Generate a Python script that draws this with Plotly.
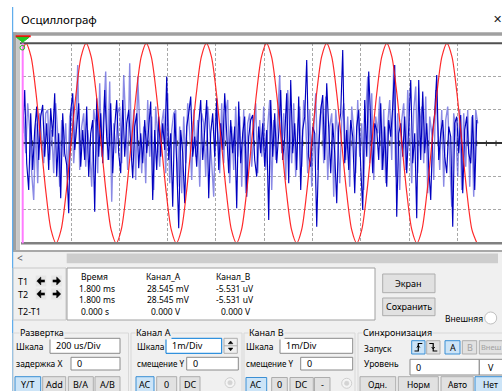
import numpy as np
import plotly.graph_objects as go

W, H = 502, 391
FONT = "Noto Sans"

# ---------------- data ----------------
# time base: 200 us/div, screen starts at 1.8 ms
T_START_MS = 1.8
MS_PER_DIV = 0.2
DIVS_VISIBLE = (502 - 22.7) / 48.3

# Channel A (red): sampled values in mV (1 mV/div)
CH_A_T0 = 1.7929
CH_A_DT = 0.02075
ch_a_mv = [
    2.6, 3.0, 2.6, 1.5, 0.0, -1.5, -2.6, -3.0, -2.6, -1.5, 0.0, 1.5,
    2.6, 3.0, 2.6, 1.5, 0.0, -1.5, -2.6, -3.0, -2.6, -1.5, 0.0, 1.5,
    2.6, 3.0, 2.6, 1.5, 0.0, -1.5, -2.6, -3.0, -2.6, -1.5, 0.0, 1.5,
    2.6, 3.0, 2.6, 1.5, 0.0, -1.5, -2.6, -3.0, -2.6, -1.5, 0.0, 1.5,
    2.6, 3.0, 2.6, 1.5, 0.0, -1.5, -2.6, -3.0, -2.6, -1.5, 0.0, 1.5,
    2.6, 3.0, 2.6, 1.5, 0.0, -1.5, -2.6, -3.0, -2.6, -1.5, 0.0, 1.5,
    2.6, 3.0, 2.6, 1.5, 0.0, -1.5, -2.6, -3.0, -2.6, -1.5, 0.0, 1.5,
    2.6, 3.0, 2.6, 1.5, 0.0, -1.5, -2.6, -3.0,
]

# Channel B (blue): noise in mV, two interleaved sample sets
CH_B_DT = 0.008282
ch_b_dark = [
    0.3, 1.6, -0.6, -1.4, 0.9, -0.8, 0.4, 1.1, -0.5, 0.8,
    1.15, -0.4, 0.6, -0.8, 1.05, 0.2, 1.5, -1.0, 0.3, -1.65,
    0.9, -0.3, -0.65, -2.1, 0.95, 1.5, -0.2, 0.6, 1.2, -0.7,
    0.4, -0.5, 1.1, -1.0, 0.3, 0.7, -2.05, 1.35, -0.4, 0.9,
    -0.6, 1.6, 0.2, -0.5, 1.2, -0.9, 0.5, 1.3, -0.3, -0.9,
    1.3, -0.4, 0.6, 1.0, -0.2, -1.05, 0.5, 0.9, -0.75, 0.3,
    -0.6, 0.7, -0.3, 0.5, 1.25, -1.7, 0.4, -0.8, 0.8, -0.4,
    0.6, -0.2, 2.0, -0.5, 0.3, -1.9, 0.9, -0.6, -2.55, 0.4,
    -0.3, -1.8, 0.5, 0.9, 1.4, -0.4, 0.2, -0.7, 0.6, 1.3,
    -0.5, 0.4, 1.3, -1.65, 0.3, 0.9, -0.4, 1.35, -0.8, 0.6,
    -0.2, 1.5, 0.4, -0.9, 0.7, -0.3, 0.5, -1.95, 1.25, -0.6,
    0.3, 0.8, -1.6, 0.2, 0.7, 0.85, -0.5, -1.0, 0.5, -0.3,
    0.6, -0.7, 0.4, -2.3, 1.3, -0.4, 0.9, -0.6, 0.3, 1.6,
    -0.5, 0.2, 1.5, -1.2, 1.9, -0.3, 0.6, -0.8, 1.4, -1.4,
    0.4, 0.8, 2.5, -0.4, -0.7, 0.5, 0.3, -2.5, -0.2, 1.0,
    1.45, -0.5, 1.8, 0.3, -0.9, 0.6, -0.3, -1.8, 0.5, 0.9,
    2.8, -0.6, 0.4, -0.8, 0.7, 0.2, -1.5, 0.5, 1.0, -0.7,
    -2.0, 1.3, -0.4, 2.15, 0.3, -0.9, 0.6, 0.4, -0.5, 1.2,
    -0.8, 0.5, -1.3, 0.7, 0.2, 1.1, 2.35, -2.2, 0.3, 0.6,
    -0.4, 0.8, -0.9, 0.5, 1.9, -0.6, 0.3, -2.25, 1.9, -0.5,
    1.55, -0.3, 0.6, -0.7, -1.7, 0.4, 0.9, 2.05, -0.5, 0.3,
    0.7, -0.4, -0.9, 0.5, 0.2, -2.5, 0.6, 0.8, -0.3, 0.85,
    -1.5, 0.4, 0.8, -0.3, -0.6, 0.85, -1.4, 0.7,
]
ch_b_light = [
    0.8, -0.3, 1.2, 0.4, -0.9, -1.7, 0.6, -1.2, 0.9, 0.2,
    -0.6, 0.9, 1.0, -0.5, 0.4, -0.9, 1.2, 0.3, -1.3, 0.7,
    -0.4, 0.6, -1.1, 0.8, 1.1, -0.6, 0.3, 2.35, -0.8, 0.5,
    0.9, -0.7, 0.4, -0.2, -1.3, 1.0, 0.6, -0.9, 1.8, -0.4,
    0.7, 2.15, -0.5, 1.85, -1.75, 0.6, -0.3, 0.9, 1.1, -0.6,
    2.05, 0.3, -0.8, 2.4, -0.5, 1.0, -1.1, 2.0, 0.4, -0.9,
    0.5, -1.2, 1.3, -0.4, 0.8, -1.4, 1.1, 0.2, -0.7, 0.6,
    1.0, -0.9, 1.5, -1.2, 0.4, 0.9, 1.0, -1.3, 0.5, -1.5,
    0.8, -0.6, 1.2, 0.3, -1.1, 1.0, -0.4, 0.7, -1.3, 0.9,
    0.6, -1.0, 1.1, 0.4, -0.5, -1.6, 1.0, 0.3, -0.9, 1.2,
    -0.6, 0.9, 1.3, -1.2, 0.5, -0.8, 1.1, -0.4, 0.8, -1.3,
    1.0, -1.5, 0.6, 0.9, -0.7, 0.4, 1.2, -0.9, 0.7, -0.4,
    1.1, -0.8, 0.5, 1.3, -1.4, 0.7, -0.5, 0.8, 2.05, -0.3,
    0.9, -1.1, 1.6, 0.4, -0.6, 1.2, -1.0, 0.5, 1.1, -0.7,
    1.3, 0.6, -0.9, 1.0, -1.3, 0.4, 1.5, -0.8, 0.7, 1.2,
    -0.6, 1.4, -1.1, 0.5, 0.9, -1.6, 1.0, 0.3, -1.2, 0.7,
    1.2, -0.5, 0.8, -1.3, 1.1, 0.4, -0.9, 1.3, -0.4, 0.6,
    -1.4, 0.9, 2.0, -0.6, 1.5, -1.1, 0.8, 0.3, 1.4, -0.8,
    1.0, -1.2, 0.6, 1.3, -0.5, 2.35, -1.0, 0.9, -1.4, 0.7,
    1.2, -0.8, 1.6, 0.4, -1.2, 1.0, 1.7, -0.9, 0.5, 1.1,
    -0.6, 1.4, -1.5, 0.8, 0.3, -1.1, 1.6, 0.5, -0.8, 1.0,
    -1.3, 0.7, 1.1, -0.5, -1.9, 0.9, 0.4, -1.0, 1.0, -1.4,
    0.9, -0.7, 1.0, -1.3, 0.8, -1.6, 1.0, 0.6,
]

# cursor readout table
readout_headers = ["Время", "Канал_A", "Канал_B"]
readout_t1 = ["1.800 ms", "28.545 mV", "-5.531 uV"]
readout_t2 = ["1.800 ms", "28.545 mV", "-5.531 uV"]
readout_diff = ["0.000 s", "0.000 V", "0.000 V"]

# ---------------- helpers ----------------
shapes, annots = [], []


def X(x):
    return x / W


def Y(y):
    return 1 - y / H


def rect(x0, y0, x1, y1, fill=None, line=None, lw=1):
    shapes.append(dict(type="rect", xref="paper", yref="paper",
                       x0=X(x0), x1=X(x1), y0=Y(y1), y1=Y(y0),
                       fillcolor=fill or "rgba(0,0,0,0)",
                       line=dict(color=line or "rgba(0,0,0,0)", width=lw if line else 0),
                       layer="above"))


def seg(x0, y0, x1, y1, color, lw=1):
    shapes.append(dict(type="line", xref="paper", yref="paper",
                       x0=X(x0), x1=X(x1), y0=Y(y0), y1=Y(y1),
                       line=dict(color=color, width=lw), layer="above"))


def circle(cx, cy, r, fill, line, lw=1):
    shapes.append(dict(type="circle", xref="paper", yref="paper",
                       x0=X(cx - r), x1=X(cx + r), y0=Y(cy + r), y1=Y(cy - r),
                       fillcolor=fill, line=dict(color=line, width=lw), layer="above"))


def path(pts, color, lw=1, fill=None):
    d = "M " + " L ".join(f"{X(a):.5f},{Y(b):.5f}" for a, b in pts)
    if fill:
        d += " Z"
    shapes.append(dict(type="path", xref="paper", yref="paper", path=d,
                       fillcolor=fill or "rgba(0,0,0,0)",
                       line=dict(color=color, width=lw), layer="above"))


def text(x, y, s, size=9, color="#000000", anchor="left", bg=None):
    a = dict(x=X(x), y=Y(y), xref="paper", yref="paper", text=s, showarrow=False,
             xanchor=anchor, yanchor="middle", borderpad=0,
             font=dict(family=FONT, size=size, color=color))
    if bg:
        a["bgcolor"] = bg
    annots.append(a)


def button(x0, y0, x1, y1, label, active=False, disabled=False, size=9, ty=None, tx=None):
    if active:
        rect(x0, y0, x1, y1, "#cce4f7", "#3b8fd4", 1)
    else:
        rect(x0, y0, x1, y1, "#e1e1e1", "#adadad", 1)
    if label:
        color = "#a0a0a0" if disabled else "#000000"
        if tx is None:
            text((x0 + x1) / 2, ty if ty else (y0 + y1) / 2, label, size=size,
                 color=color, anchor="center")
        else:
            text(tx, ty if ty else (y0 + y1) / 2, label, size=size, color=color)


def inputbox(x0, y0, x1, y1, value, focused=False):
    rect(x0, y0, x1, y1, "#ffffff", "#0078d7" if focused else "#8a8a8a", 1)
    text(x0 + 5, (y0 + y1) / 2, value)


def arrow(cx, cy, direction):
    s = -1 if direction == "left" else 1
    path([(cx + s * 4.2, cy), (cx + s * 0.2, cy - 4), (cx + s * 0.2, cy + 4)],
         "#000000", 0.5, fill="#000000")
    rect(min(cx - s * 3.8, cx + s * 0.5), cy - 1.3, max(cx - s * 3.8, cx + s * 0.5), cy + 1.3,
         "#000000")


# ---------------- window chrome ----------------
BODY = "#f0f0f0"
rect(13, 32.3, 502, 35.7, "#a0a0a0")
rect(13, 32.3, 16.5, 252, "#a0a0a0")
rect(16.5, 35.7, 20, 250, "#c8c8c8")
rect(13, 250, 502, 252, "#a8a8a8")
rect(13, 252, 502, 391, BODY)
seg(12.7, 7, 12.7, 391, "#3c9be8", 1)
text(20, 20, "Осциллограф", size=11.5)
text(492, 18.5, "✕", size=11, color="#202020")

# screen borders
seg(20, 43.3, 502, 43.3, "#505050", 2)
seg(21, 243.3, 502, 243.3, "#808080", 2.5)

# cursor T1/T2 marker
seg(22.7, 43.3, 22.7, 243.3, "#ff7bff", 2)
seg(15.7, 36.3, 30.7, 36.3, "#ff0000", 2)
path([(16.5, 37.3), (29, 37.3), (22.7, 42.3)], "#22bb22", 1, fill="#22cc22")
circle(22.3, 47.7, 2.3, "rgba(0,0,0,0)", "#22bb22", 1)

# scrollbar
text(15.5, 258.3, "<", size=10, color="#606060")
rect(66.7, 253.5, 498, 263.3, "#cdcdcd")

# cursor readout panel
rect(13, 268, 66, 320, None, "#c8c8c8", 1)
rect(67, 268, 375, 320, "#ffffff", "#a0a0a0", 1)
text(17, 281.7, "T1")
text(17, 294.3, "T2")
text(17, 311.7, "T2-T1")
for bx, d in [(41, "left"), (56.5, "right")]:
    for by in (281, 294):
        rect(bx - 5.3, by - 5.5, bx + 5.3, by + 5.5, "#e6e6e6")
        arrow(bx, by, d)
cols = [(80, 78, 80), (145, 146, 150), (215, 215, 220)]
for k, (hx, vx, dx) in enumerate(cols):
    text(hx, 276.2, readout_headers[k], size=8.5)
    text(vx, 288.2, readout_t1[k], size=8.5)
    text(vx, 299.4, readout_t2[k], size=8.5)
    text(dx, 311, readout_diff[k], size=8.5)

button(382.7, 274, 435, 292.7, "Экран")
button(382.7, 298, 435, 315.7, "Сохранить")
text(444, 318, "Внешняя", size=8.5)
circle(490.7, 318, 6, "#ffffff", "#c0c0c0", 1)

# ---------------- control groups ----------------
GB = "#d8d8d8"
rect(13, 333, 128.5, 398, None, GB, 1)
rect(131, 333, 242, 398, None, GB, 1)
rect(244, 333, 355, 398, None, GB, 1)
rect(358, 333, 506, 398, None, GB, 1)
text(19, 332, "Развертка", bg=BODY)
text(135, 332, "Канал A", bg=BODY)
text(247.5, 332, "Канал B", bg=BODY)
text(362, 332, "Синхронизация", bg=BODY)

BTN_TY = 384.5
# Развертка
text(15, 346, "Шкала", size=8.5)
inputbox(50, 338.3, 120, 353.3, "200 us/Div")
text(15, 363.5, "задержка X", size=8.5)
inputbox(71, 357.3, 120, 370, "0")
button(15, 376.7, 40.7, 395, "Y/T", active=True, ty=BTN_TY)
button(42.7, 376.7, 65.7, 395, "Add", ty=BTN_TY)
button(68.3, 376.7, 93.3, 395, "B/A", ty=BTN_TY)
button(95, 376.7, 120, 395, "A/B", ty=BTN_TY)

# Канал A
text(136, 346, "Шкала", size=8.5)
inputbox(166, 338.3, 221.7, 353.3, "1m/Div", focused=True)
rect(224, 338.3, 237.3, 353.3, "#f0f0f0", "#adadad", 1)
seg(224, 345.8, 237.3, 345.8, "#adadad", 1)
path([(228.3, 343.8), (230.6, 341), (232.9, 343.8)], "#000000", 0.5, fill="#000000")
path([(228.3, 348), (230.6, 350.8), (232.9, 348)], "#000000", 0.5, fill="#000000")
text(136, 363.5, "смещение Y", size=8)
inputbox(186.7, 357.3, 238.3, 370, "0")
button(136, 376.7, 154, 395, "AC", active=True, ty=BTN_TY)
button(156.7, 376.7, 176.7, 395, "0", ty=BTN_TY)
button(180, 376.7, 200, 395, "DC", ty=BTN_TY)
circle(230, 382.7, 5, "#f4f4f4", "#cfcfcf", 1)
circle(230, 382.7, 2.3, "#d4d4d4", "#d4d4d4", 0.5)

# Канал B
text(245, 346, "Шкала", size=8.5)
inputbox(280, 338.3, 352.7, 353.3, "1m/Div")
text(245, 363.5, "смещение Y", size=8)
inputbox(300.7, 357.3, 352.7, 370, "0")
button(246, 377.5, 266.7, 395, "AC", active=True, ty=BTN_TY)
button(271.7, 377.5, 287.3, 395, "0", ty=BTN_TY)
button(290, 377.5, 313.3, 395, "DC", ty=BTN_TY)
button(314.5, 377.5, 330, 395, "-", ty=BTN_TY)
circle(346.7, 383.3, 5, "#f4f4f4", "#cfcfcf", 1)
circle(346.7, 383.3, 2.3, "#d4d4d4", "#d4d4d4", 0.5)

# Синхронизация
text(363, 348, "Запуск", size=8.5)
button(411.7, 340.7, 425, 354, "", active=True)
path([(414.5, 351), (418.3, 351), (418.3, 343.5), (422.3, 343.5)], "#000000", 1.2)
path([(416.8, 347.5), (418.3, 345.5), (419.8, 347.5)], "#000000", 1)
button(426.7, 340.7, 440, 354, "")
path([(429.3, 343.5), (433.2, 343.5), (433.2, 351), (437.3, 351)], "#000000", 1.2)
path([(431.7, 347), (433.2, 349), (434.7, 347)], "#000000", 1)
button(445, 340.7, 460, 354, "A", active=True)
button(462.3, 340.7, 476.7, 354, "B", disabled=True)
button(479.3, 340.7, 510, 354, "Внеш", disabled=True, tx=480.3, size=7.5)
text(363, 363.5, "Уровень", size=8.5)
inputbox(410, 359.3, 479.3, 375, "0")
rect(479.3, 359.3, 510, 375, "#ffffff", "#8a8a8a", 1)
text(486.5, 367.2, "V")
button(360, 376.7, 395.7, 395, "Одн.", ty=BTN_TY, size=8.5)
button(398.3, 376.7, 438.3, 395, "Норм", ty=BTN_TY, size=8.5)
button(441, 376.7, 473.3, 395, "Авто", ty=BTN_TY, size=8.5)
button(475, 376.7, 510, 395, "Нет", active=True, ty=BTN_TY, tx=482, size=8.5)

# ---------------- traces ----------------
t_a = CH_A_T0 + CH_A_DT * np.arange(len(ch_a_mv))
t_bd = T_START_MS + CH_B_DT * np.arange(len(ch_b_dark))
t_bl = T_START_MS + CH_B_DT * (np.arange(len(ch_b_light)) + 0.5)
x_end = T_START_MS + MS_PER_DIV * DIVS_VISIBLE
t_ticks = np.arange(T_START_MS, x_end, MS_PER_DIV / 5)

fig = go.Figure()
fig.add_trace(go.Scatter(x=t_ticks, y=[0] * len(t_ticks), mode="markers",
                         marker=dict(symbol="line-ns", size=4,
                                     line=dict(color="#303030", width=1)),
                         hoverinfo="skip"))
fig.add_trace(go.Scatter(x=t_bl, y=ch_b_light, mode="lines",
                         line=dict(color="rgba(75,75,215,0.65)", width=1.4)))
fig.add_trace(go.Scatter(x=t_bd, y=ch_b_dark, mode="lines",
                         line=dict(color="#0000c0", width=1.15)))
fig.add_trace(go.Scatter(x=t_a, y=ch_a_mv, mode="lines",
                         line=dict(color="rgba(255,20,20,0.9)", width=1.2,
                                   shape="spline", smoothing=0.8)))

fig.update_layout(
    width=W, height=H, margin=dict(l=0, r=0, t=0, b=0),
    paper_bgcolor="#ffffff", plot_bgcolor="#ffffff",
    showlegend=False, shapes=shapes, annotations=annots,
    xaxis=dict(domain=[X(22.7), 1], range=[T_START_MS, x_end],
               tick0=T_START_MS, dtick=MS_PER_DIV, showgrid=True,
               gridcolor="#a8a8a8", griddash="3px,2px", gridwidth=1,
               zeroline=False, showticklabels=False, ticks="", showline=False),
    yaxis=dict(domain=[Y(243.3), Y(43.3)], range=[-3, 3], dtick=1,
               showgrid=True, gridcolor="#a8a8a8", griddash="3px,2px", gridwidth=1,
               zeroline=True, zerolinecolor="#303030", zerolinewidth=1.5,
               showticklabels=False, ticks="", showline=False),
)

fig.write_html("out.html")
